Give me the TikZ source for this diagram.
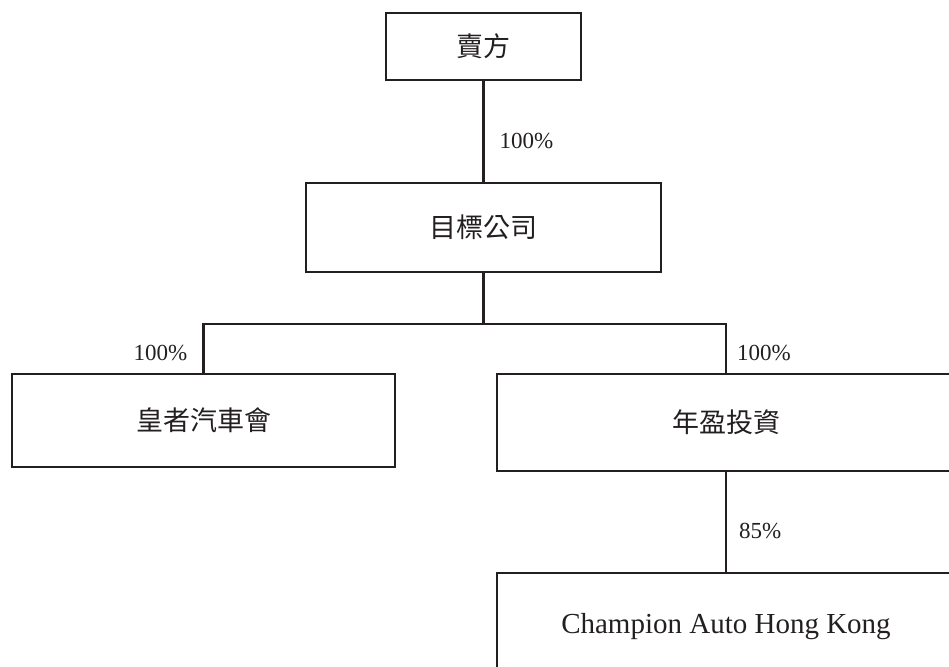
\documentclass[tikz,border=0pt]{standalone}
\usepackage{fontspec}
\setmainfont{Liberation Serif}
\newfontfamily\cjk{Noto Sans CJK TC}
\definecolor{ink}{HTML}{231F20}
\begin{document}
\begin{tikzpicture}[x=1pt,y=-1pt,
  box/.style={draw=ink, line width=2.2pt, inner sep=0pt, text=ink, anchor=center},
  cjkbox/.style={box, font=\cjk\fontsize{27}{30}\selectfont},
  latbox/.style={box, font=\fontsize{29}{32}\selectfont},
  conn/.style={draw=ink, line width=2.2pt},
  pct/.style={text=ink, inner sep=0pt, font=\fontsize{23}{26}\selectfont}]
\useasboundingbox (0,0) rectangle (949,666);
\clip (0,0) rectangle (949,666);
\node[cjkbox, minimum width=195, minimum height=67] (seller) at (483.5,46.5) {賣方};
\node[cjkbox, minimum width=355, minimum height=89] (target) at (483.5,227.5) {目標公司};
\node[cjkbox, minimum width=383, minimum height=93] (club) at (203.5,420.5) {皇者汽車會};
\node[cjkbox, minimum width=458, minimum height=97] (invest) at (726,422.5) {年盈投資};
\node[latbox, minimum width=458, minimum height=107] (champ) at (726,626.5) {Champion Auto Hong Kong};
\draw[conn] (seller.south) -- node[pct, pos=0.61, anchor=base west, xshift=15pt, yshift=-6pt] {100\%} (target.north);
\draw[conn] (target.south) -- ++(0,51) coordinate (joint);
\draw[conn] (club.north) |- (joint) -| (invest.north);
\node[pct, anchor=base east] (lclub) at ([xshift=-16pt, yshift=12pt]club.north) {100\%};
\node[pct, anchor=base west] (linv) at ([xshift=11pt, yshift=12pt]invest.north) {100\%};
\draw[conn] (invest.south) -- node[pct, pos=0.61, anchor=base west, xshift=12pt, yshift=-6pt] {85\%} (champ.north);
\end{tikzpicture}
\end{document}
